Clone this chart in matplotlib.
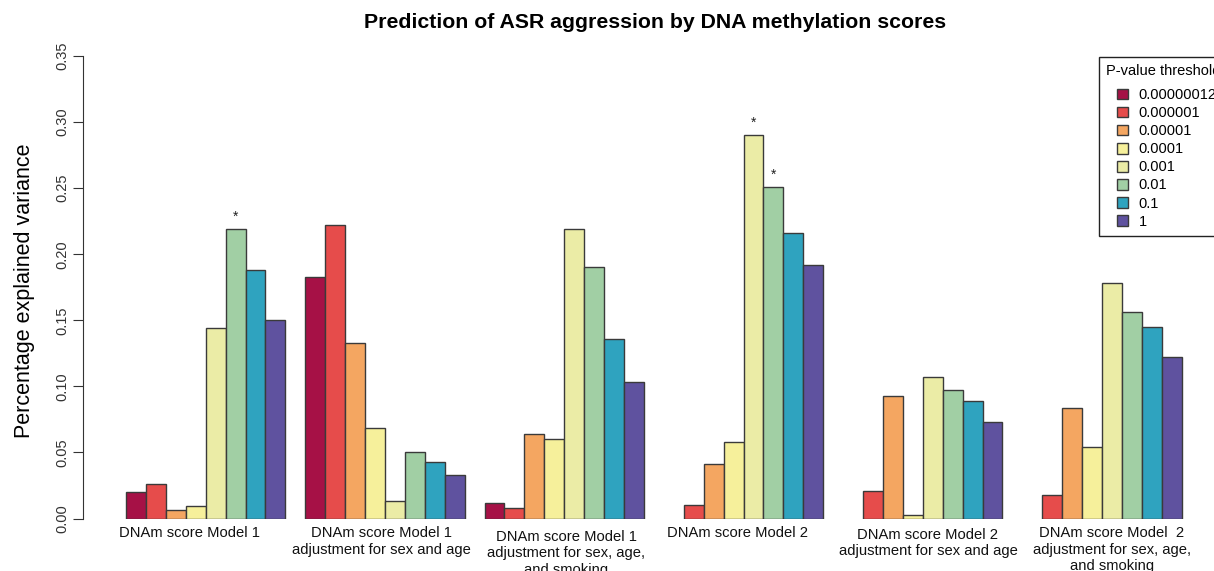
import numpy as np
import matplotlib.pyplot as plt
from matplotlib.patches import Rectangle
from matplotlib.container import BarContainer
from matplotlib.legend_handler import HandlerPatch, update_from_first_child

plt.rcParams['font.family'] = ['Liberation Sans', 'DejaVu Sans']

# p-value thresholds (legend) and their fill colours
thresholds = ['0.00000012', '0.000001', '0.00001', '0.0001', '0.001', '0.01', '0.1', '1']
colors = ['#a61146', '#e64c4b', '#f4a661', '#f6f09b', '#ebeca6', '#a1cfa4', '#2fa3bf', '#5f529f']

groups = ['DNAm score Model 1',
          'DNAm score Model 1\nadjustment for sex and age',
          'DNAm score Model 1\nadjustment for sex, age,\nand smoking',
          'DNAm score Model 2',
          'DNAm score Model 2\nadjustment for sex and age',
          'DNAm score Model  2\nadjustment for sex, age,\nand smoking']

# explained variance per group, one value per threshold (nan = no bar)
model1 = [0.020, 0.026, 0.0067, 0.0097, 0.144, 0.219, 0.188, 0.150]
model1_sex_age = [0.183, 0.222, 0.133, 0.0685, 0.013, 0.050, 0.043, 0.0327]
model1_sex_age_smk = [0.0117, 0.008, 0.064, 0.060, 0.219, 0.190, 0.136, 0.103]
model2 = [np.nan, 0.0102, 0.041, 0.058, 0.290, 0.251, 0.216, 0.192]
model2_sex_age = [np.nan, 0.0206, 0.093, 0.003, 0.107, 0.097, 0.089, 0.073]
model2_sex_age_smk = [np.nan, 0.0178, 0.084, 0.054, 0.178, 0.156, 0.145, 0.1225]
values = [model1, model1_sex_age, model1_sex_age_smk, model2, model2_sex_age, model2_sex_age_smk]

# significant bars: (group index, threshold index)
stars = [(0, 5), (3, 4), (3, 5)]

# label centres (placed by hand in the original, not exactly under the groups)
label_x = [4.21, 13.83, 23.09, 31.70, 41.26, 50.50]
label_y = [-0.006, -0.006, -0.009, -0.006, -0.007, -0.006]


def indented_square(legend, orig_handle, xdescent, ydescent, width, height, fontsize):
    # square sitting at the right end of the handle slot (R-style indented keys)
    return Rectangle((-xdescent + width - height, -ydescent), height, height)


fig = plt.figure(figsize=(12.14, 5.71), dpi=100)
ax = fig.add_axes([83/1214, 52.5/571, 1 - 83/1214, (518.5 - 56)/571])

nthr = len(thresholds)
for g, vals in enumerate(values):
    # R barplot beside=TRUE: space 1 between groups, bars width 1
    xs = 1 + g*(nthr + 1) + np.arange(nthr) + 0.5
    for k in range(nthr):
        if np.isnan(vals[k]):
            continue
        ax.bar(xs[k], vals[k], width=1.0, color=colors[k], edgecolor='#3a3a3a',
               linewidth=1.0, label=thresholds[k] if g == 0 else None)
    for sg, sk in stars:
        if sg == g:
            ax.text(xs[sk], vals[sk] + 0.004, '*', ha='center', va='bottom',
                    fontsize=10, color='#222222')
    ax.text(label_x[g], label_y[g], groups[g], ha='center', va='top',
            fontsize=10.6, linespacing=1.19, color='#111111')

ax.set_xlim(-1.159, 55.62)
ax.set_ylim(0, 0.35)
for s in ['top', 'right', 'bottom']:
    ax.spines[s].set_visible(False)
ax.spines['left'].set_bounds(0, 0.35)
ax.spines['left'].set_color('#333333')
ax.set_xticks([])
ax.set_yticks(np.arange(0, 0.351, 0.05))
ax.set_yticklabels(['%.2f' % v for v in np.arange(0, 0.351, 0.05)],
                   rotation=90, va='center', fontsize=10.5, color='#333333')
ax.tick_params(axis='y', length=7, color='#333333', pad=3)

fig.text(25/1214, 1 - 291/571, 'Percentage explained variance', rotation=90,
         ha='center', va='center', fontsize=15.5)
fig.text(655/1214, 1 - 22/571, 'Prediction of ASR aggression by DNA methylation scores',
         ha='center', va='center', fontsize=15.3, fontweight='bold')

square_handler = HandlerPatch(patch_func=indented_square, update_func=update_from_first_child)
leg = ax.legend(title='P-value threshold', loc='upper left',
                bbox_to_anchor=(1099/1214, 1 - 57/571), bbox_transform=fig.transFigure,
                borderaxespad=0, fontsize=10.5, title_fontsize=10.5, alignment='left',
                handlelength=1.5, handleheight=0.75, handletextpad=0.7,
                labelspacing=0.28, borderpad=0.5, fancybox=False, framealpha=1,
                handler_map={BarContainer: square_handler})
leg._legend_box.sep = 7  # extra gap under the title
leg.get_frame().set_edgecolor('#222222')
leg.get_frame().set_linewidth(1.0)

fig.savefig('out.png', dpi=100)
